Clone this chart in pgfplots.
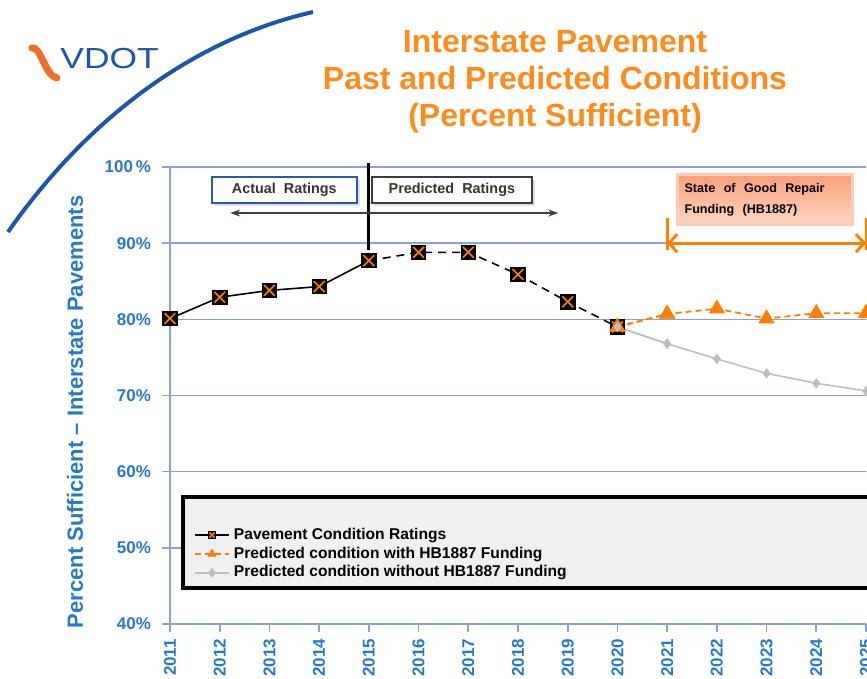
\documentclass[border=0pt]{standalone}
\usepackage{fontspec}
\setmainfont{Liberation Sans}
\usepackage{pgfplots}
\pgfplotsset{compat=1.18}
\usetikzlibrary{arrows.meta,shadows}

\definecolor{titleorange}{RGB}{255,140,26}
\definecolor{tickblue}{RGB}{40,120,200}
\definecolor{gridc}{RGB}{140,160,210}
\definecolor{serorange}{RGB}{255,128,0}
\definecolor{sergray}{RGB}{190,190,190}
\definecolor{logoblue}{RGB}{28,86,168}
\definecolor{logoorange}{RGB}{240,110,40}
\definecolor{boxblue}{RGB}{40,90,170}
\definecolor{boxdark}{RGB}{60,60,60}
\definecolor{arrowc}{RGB}{70,60,55}
\definecolor{legfill}{RGB}{240,240,240}
\definecolor{salmontop}{RGB}{248,160,120}
\definecolor{salmonbot}{RGB}{253,215,195}

\pgfdeclareplotmark{sqx}{%
  \pgfpathrectangle{\pgfpoint{-\pgfplotmarksize}{-\pgfplotmarksize}}{\pgfpoint{2\pgfplotmarksize}{2\pgfplotmarksize}}%
  \pgfsetfillcolor{black}\pgfsetstrokecolor{black}\pgfsetlinewidth{0.4pt}%
  \pgfusepath{fill,stroke}%
  \pgfsetstrokecolor{serorange}\pgfsetlinewidth{0.8pt}%
  \pgfpathmoveto{\pgfpoint{-0.75\pgfplotmarksize}{-0.75\pgfplotmarksize}}%
  \pgfpathlineto{\pgfpoint{0.75\pgfplotmarksize}{0.75\pgfplotmarksize}}%
  \pgfpathmoveto{\pgfpoint{-0.75\pgfplotmarksize}{0.75\pgfplotmarksize}}%
  \pgfpathlineto{\pgfpoint{0.75\pgfplotmarksize}{-0.75\pgfplotmarksize}}%
  \pgfusepath{stroke}%
}

\begin{document}
\begin{tikzpicture}
\begin{scope}[x=0.5pt,y=0.5pt]
% decorative arc and logo
\draw[logoblue, line width=2pt] (8,447) .. controls (85,557) and (190,639) .. (313,667);
\draw[logoorange, line width=3.5pt, line cap=round] (32,631) .. controls (41,633) and (45,603) .. (57,601);
\node[anchor=base west, logoblue, font=\fontsize{14.5}{14}\selectfont, xscale=1.22, inner sep=0pt] at (60,610) {VDOT};
% title
\node[align=center, font=\bfseries\fontsize{16}{18.5}\selectfont, text=titleorange] at (555,597) {Interstate\ Pavement\\Past and Predicted Conditions\\(Percent\ Sufficient)};
\end{scope}

\begin{axis}[
  at={(85pt,27.5pt)}, anchor=south west,
  scale only axis, width=348pt, height=228.5pt,
  xmin=2011, xmax=2025, ymin=40, ymax=100,
  axis x line*=bottom, axis y line*=left,
  ymajorgrids, grid style={gridc, line width=0.8pt},
  axis line style={gridc, line width=0.8pt},
  tick style={gridc, line width=0.8pt},
  tick align=outside, major tick length=4pt,
  xtick={2011,2012,2013,2014,2015,2016,2017,2018,2019,2020,2021,2022,2023,2024,2025},
  xticklabels={2011,2012,2013,2014,2015,2016,2017,2018,2019,2020,2021,2022,2023,2024,2025},
  x tick label style={rotate=90, anchor=east, text=tickblue, font=\bfseries\fontsize{8.5}{9}\selectfont},
  ytick={40,50,60,70,80,90,100},
  yticklabels={40\%,50\%,60\%,70\%,80\%,90\%,100\,\%},
  y tick label style={text=tickblue, font=\bfseries\fontsize{8.5}{9}\selectfont, xshift=-2pt},
  ylabel={Percent Sufficient -- Interstate Pavements},
  ylabel style={at={(axis description cs:-0.1365,0.464)}, anchor=center, text=tickblue, font=\bfseries\fontsize{11}{12}\selectfont},
  clip=false,
  legend style={draw=none, fill=none, at={(axis description cs:0.031,0.2245)}, anchor=north west,
     font=\bfseries\fontsize{7.8}{9}\selectfont, inner sep=1pt, row sep=-1.7pt},
  legend cell align=left,
  legend image post style={mark size=1.8pt},
]
% legend box
\draw[line width=2pt, fill=legfill] (rel axis cs:0.0187,0.2779) rectangle (rel axis cs:1.0201,0.0788);

\addplot[black, line width=0.8pt, mark=sqx, mark size=3.6pt] coordinates {
 (2011,80.1)(2012,82.9)(2013,83.8)(2014,84.3)(2015,87.7)};
\addlegendentry{Pavement\ Condition\ Ratings}
\addplot[serorange, line width=0.9pt, dash pattern=on 3pt off 2pt, mark=triangle*, mark size=3.8pt, mark options={solid}] coordinates {
 (2020,79.0)(2021,80.7)(2022,81.4)(2023,80.1)(2024,80.8)(2025,80.8)};
\addlegendentry{Predicted\ condition\ with\ HB1887\ Funding}
\addplot[sergray, line width=0.8pt, mark=diamond*, mark size=2pt] coordinates {
 (2020,79.0)(2021,76.8)(2022,74.8)(2023,72.9)(2024,71.6)(2025,70.6)};
\addlegendentry{Predicted\ condition\ without\ HB1887\ Funding}
\addplot[black, line width=0.8pt, dash pattern=on 4pt off 3pt, mark=sqx, mark size=3.6pt, mark options={solid}, forget plot] coordinates {
 (2015,87.7)(2016,88.8)(2017,88.8)(2018,85.9)(2019,82.3)(2020,79.0)};
\addplot[serorange, line width=0.9pt, dash pattern=on 3pt off 2pt, mark=triangle*, mark size=3.8pt, mark options={solid}, forget plot] coordinates {
 (2020,79.0)(2021,80.7)};
\addplot[sergray, line width=0.8pt, mark=diamond*, mark size=2pt, forget plot] coordinates {
 (2020,79.0)(2021,76.8)};

% annotations
\draw[line width=1.5pt] (axis cs:2015,100.5) -- (axis cs:2015,89.1);
\node[draw=boxblue, line width=1pt, fill=white, minimum width=72.5pt, minimum height=13pt, inner sep=0pt,
  text={rgb,255:red,60;green,50;blue,40}, font=\bfseries\fontsize{7.2}{8}\selectfont,
  drop shadow={opacity=0.25,shadow xshift=1.5pt,shadow yshift=-1.5pt}] at (axis cs:2013.30,96.98) {Actual\ \ Ratings};
\node[draw=boxdark, line width=1.2pt, fill=white, minimum width=80pt, minimum height=13pt, inner sep=0pt,
  text={rgb,255:red,60;green,50;blue,40}, font=\bfseries\fontsize{7.2}{8}\selectfont,
  drop shadow={opacity=0.25,shadow xshift=1.5pt,shadow yshift=-1.5pt}] at (axis cs:2016.67,96.98) {Predicted\ \ Ratings};
\draw[arrowc, line width=0.7pt, {Stealth[length=5pt,width=3.5pt]}-{Stealth[length=5pt,width=3.5pt]}] (axis cs:2012.21,93.96) -- (axis cs:2018.81,93.96);

\node[top color=salmontop, bottom color=salmonbot, draw={rgb,255:red,252;green,205;blue,180}, line width=1.5pt,
  minimum width=87.5pt, minimum height=25pt, text width=80pt, inner xsep=3.75pt, align=left,
  font=\bfseries\fontsize{6.3}{10.5}\selectfont] at (axis cs:2022.96,95.67) {State\ \ of\ \ Good\ \ Repair\\Funding\ \ (HB1887)};
\draw[serorange, line width=1.5pt, {Straight Barb[length=4pt,width=9pt]}-{Straight Barb[length=4pt,width=9pt]}] (axis cs:2021,90) -- (axis cs:2025,90);
\draw[serorange, line width=1.5pt] (axis cs:2021,93.3) -- (axis cs:2021,89.1);
\draw[serorange, line width=1.5pt] (axis cs:2025,93.3) -- (axis cs:2025,89.1);
\end{axis}
\pgfresetboundingbox
\path[use as bounding box] (0pt,0pt) rectangle (433.5pt,339.5pt);
\end{tikzpicture}
\end{document}
